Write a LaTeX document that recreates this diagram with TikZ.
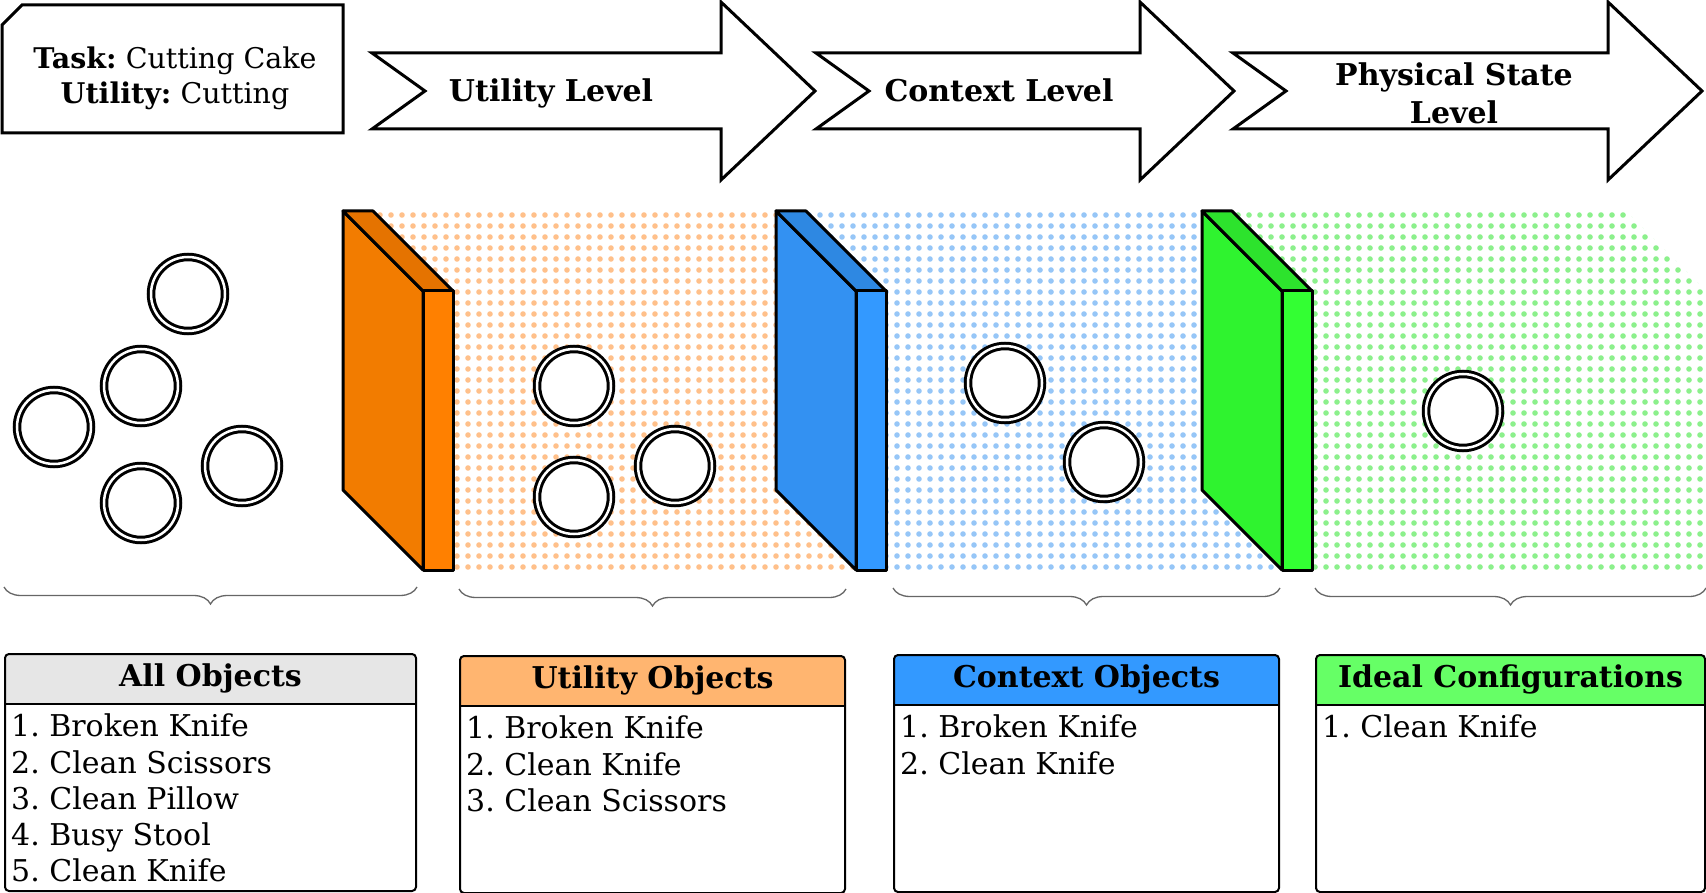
\documentclass[tikz,border=0pt]{standalone}
\usepackage{fontspec}
\setmainfont{DejaVu Serif}
\usetikzlibrary{positioning, calc, decorations.pathreplacing}
\usepackage{xcolor}
\definecolor{orangefront}{HTML}{FF8000}
\definecolor{orangeside}{HTML}{F27C00}
\definecolor{orangetop}{HTML}{E57300}
\definecolor{orangedot}{HTML}{FFC08A}
\definecolor{bluefront}{HTML}{3399FF}
\definecolor{blueside}{HTML}{3391F2}
\definecolor{bluetop}{HTML}{2E88E2}
\definecolor{bluedot}{HTML}{96C6F7}
\definecolor{greenfront}{HTML}{33FF33}
\definecolor{greenside}{HTML}{2FF32F}
\definecolor{greentop}{HTML}{2DE32D}
\definecolor{greendot}{HTML}{8CF08C}
\definecolor{allfill}{HTML}{E6E6E6}
\definecolor{utilfill}{HTML}{FFB570}
\definecolor{ctxfill}{HTML}{3399FF}
\definecolor{idealfill}{HTML}{66FF66}

\begin{document}
\frenchspacing
\begin{tikzpicture}[
    x=1pt, y=-1pt,
    txt/.style={font=\fontsize{30}{36.2}\selectfont, inner sep=0pt},
    level/.style={draw, line width=3pt, fill=white, line join=miter},
    panel/.style={draw, line width=3pt, line join=round},
    obj/.style={circle, draw, double=white, double distance=2.5pt, line width=3pt, fill=white, minimum size=74pt, inner sep=0pt},
    listbox/.style={draw, line width=2pt, rounded corners=4pt, minimum height=237pt, anchor=north west, inner sep=0pt,
        path picture={
            \fill[#1, sharp corners] (path picture bounding box.north west) rectangle ([yshift=-50pt]path picture bounding box.north east);
            \draw[line width=2pt] ([yshift=-50pt]path picture bounding box.north west) -- ([yshift=-50pt]path picture bounding box.north east);
        }},
    listhead/.style={txt, font=\fontsize{30}{36.2}\selectfont\bfseries},
    listitems/.style={txt, align=left, anchor=north west},
    grp/.style={draw=black!60, line width=1.3pt, decorate, decoration={brace, amplitude=17pt}},
]
\useasboundingbox (0,0) rectangle (1706,893);

% task box
\draw[line width=3pt] (2,25) -- (22,5) -- (343,5) -- (343,133) -- (2,133) -- cycle;
\node[txt, align=center, font=\fontsize{28.5}{35}\selectfont] (task) at (175,78) {\textbf{Task:} Cutting Cake\\\textbf{Utility:} Cutting};

% level arrows
\foreach \ta/\hb/\tp in {372/721/815, 816/1140/1234, 1233/1608/1702}
    \draw[level] (\ta,53) -- (\hb,53) -- (\hb,2) -- (\tp,91) -- (\hb,180) -- (\hb,129) -- (\ta,129) -- ({\ta+53},91) -- cycle;
\node[listhead, anchor=base] (utillevel) at (551,102) {Utility Level};
\node[listhead, anchor=base] (ctxlevel) at (999,102) {Context Level};
\node[listhead, align=center, font=\fontsize{30}{38}\selectfont\bfseries] (physlevel) at (1454,93) {Physical State\\Level};

% dotted regions
\foreach \dc/\ka/\kb/\xa/\xb in {orangedot/0/46/343/776, bluedot/39/85/776/1202, greendot/78/124/1202/1626}{
    \begin{scope}
        \clip (\xa,211) -- (\xb,211) -- ({\xb+80},291) -- ({\xb+80},570) -- ({\xa+80},570) -- (\xa,490) -- cycle;
        \foreach \k in {\ka,...,\kb}
            \foreach \j in {0,...,32}
                \fill[\dc] ({347+11*\k},{215+11*\j}) circle[radius=2.8pt];
    \end{scope}
}

% filter panels
\foreach \px/\pc in {343/orange, 776/blue, 1202/green}{
    \filldraw[panel, fill=\pc side] (\px,211) -- ++(80,80) -- ++(0,279) -- ++(-80,-80) -- cycle;
    \filldraw[panel, fill=\pc top] (\px,211) -- ++(30,0) -- ++(80,80) -- ++(-30,0) -- cycle;
    \filldraw[panel, fill=\pc front] ({\px+80},291) rectangle ++(30,279);
}

% objects
\node[obj] (all1) at (188,294) {};
\node[obj] (all2) at (141,386) {};
\node[obj] (all3) at (54,427) {};
\node[obj] (all4) at (242,466) {};
\node[obj] (all5) at (141,503) {};
\node[obj] (util1) at (574,386) {};
\node[obj] (util2) at (574,497) {};
\node[obj] (util3) at (675,466) {};
\node[obj] (ctx1) at (1005,383) {};
\node[obj] (ctx2) at (1104,462) {};
\node[obj] (ideal1) at (1463,411) {};

% lists
\node[listbox=allfill, minimum width=411pt] (allbox) at (4,653) {};
\node[listbox=utilfill, minimum width=385pt] (utilbox) at (459,655) {};
\node[listbox=ctxfill, minimum width=385pt] (ctxbox) at (893,654) {};
\node[listbox=idealfill, minimum width=389pt] (idealbox) at (1315,654) {};

\node[listhead] (alltitle) at ([yshift=-25pt]allbox.north) {All Objects};
\node[listhead] (utiltitle) at ([yshift=-25pt]utilbox.north) {Utility Objects};
\node[listhead] (ctxtitle) at ([yshift=-25pt]ctxbox.north) {Context Objects};
\node[listhead] (idealtitle) at ([yshift=-25pt]idealbox.north) {Ideal Configurations};

\node[listitems] (allitems) at ([xshift=7pt, yshift=-61pt]allbox.north west)
    {1. Broken Knife\\2. Clean Scissors\\3. Clean Pillow\\4. Busy Stool\\5. Clean Knife};
\node[listitems] (utilitems) at ([xshift=7pt, yshift=-61pt]utilbox.north west)
    {1. Broken Knife\\2. Clean Knife\\3. Clean Scissors};
\node[listitems] (ctxitems) at ([xshift=7pt, yshift=-61pt]ctxbox.north west)
    {1. Broken Knife\\2. Clean Knife};
\node[listitems] (idealitems) at ([xshift=7pt, yshift=-61pt]idealbox.north west)
    {1. Clean Knife};

% braces
\foreach \b in {allbox, utilbox, ctxbox, idealbox}
    \draw[grp] ([yshift=66pt]\b.north east) -- ([yshift=66pt]\b.north west);

\end{tikzpicture}
\end{document}
